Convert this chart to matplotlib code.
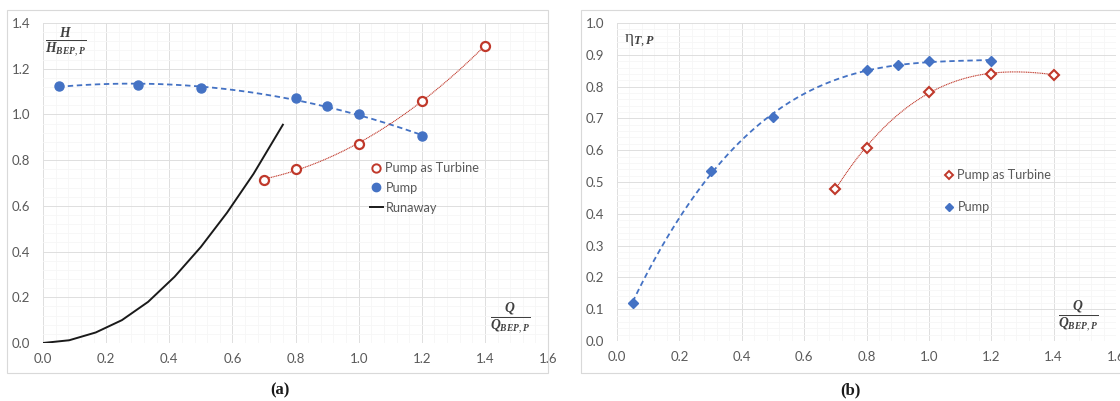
import matplotlib
matplotlib.use('Agg')
import matplotlib.pyplot as plt
import numpy as np
from matplotlib.patches import Rectangle
from matplotlib.lines import Line2D
from matplotlib.ticker import MultipleLocator, AutoMinorLocator

# ─── data ───
# (a) head ratio
pump_q_a = [0.05, 0.3, 0.5, 0.8, 0.9, 1.0, 1.2]
pump_h = [1.125, 1.13, 1.115, 1.07, 1.035, 1.0, 0.905]
pat_q_a = [0.7, 0.8, 1.0, 1.2, 1.4]
pat_h = [0.715, 0.76, 0.87, 1.06, 1.30]
run_q = [0.0, 0.083, 0.167, 0.25, 0.333, 0.417, 0.5, 0.583, 0.667, 0.76]
run_h = [0.0, 0.012, 0.046, 0.10, 0.18, 0.29, 0.42, 0.57, 0.74, 0.955]

# (b) efficiency
pump_q_b = [0.05, 0.3, 0.5, 0.8, 0.9, 1.0, 1.2]
pump_eta = [0.12, 0.535, 0.703, 0.853, 0.867, 0.88, 0.882]
pat_q_b = [0.7, 0.8, 1.0, 1.2, 1.4]
pat_eta = [0.478, 0.608, 0.783, 0.84, 0.838]

BLUE = '#4472C4'
RED = '#C0392B'
GRAY_TXT = '#595959'
GRID = '#dedede'
GRID_MINOR = '#f6f6f6'

plt.rcParams['font.family'] = ['Lato', 'DejaVu Sans']
plt.rcParams['mathtext.fontset'] = 'custom'
plt.rcParams['mathtext.it'] = 'Liberation Serif:italic:bold'
plt.rcParams['mathtext.rm'] = 'Liberation Serif'
plt.rcParams['mathtext.bf'] = 'Liberation Serif:bold'

fig = plt.figure(figsize=(11.2, 4.01), dpi=100)
fig.patch.set_facecolor('white')

# panel frames (Excel chart area borders)
for x0, x1 in [(7, 548), (581, 1122)]:
    fig.patches.append(Rectangle((x0 / 1120, 1 - 373 / 401), (x1 - x0) / 1120, 363 / 401,
                                 transform=fig.transFigure, fill=False,
                                 edgecolor='#d9d9d9', linewidth=0.8))

ax1 = fig.add_axes([43 / 1120, 1 - 343 / 401, 505 / 1120, 320 / 401])
ax2 = fig.add_axes([617 / 1120, 1 - 341 / 401, 499 / 1120, 318 / 401])


def style(ax, ymax, ystep):
    ax.set_xlim(0, 1.6)
    ax.set_ylim(0, ymax)
    ax.xaxis.set_major_locator(MultipleLocator(0.2))
    ax.yaxis.set_major_locator(MultipleLocator(ystep))
    ax.xaxis.set_minor_locator(AutoMinorLocator(5))
    ax.yaxis.set_minor_locator(AutoMinorLocator(5))
    ax.grid(which='major', color=GRID, linewidth=0.7)
    ax.grid(which='minor', color=GRID_MINOR, linewidth=0.6)
    ax.set_axisbelow(True)
    for s in ax.spines.values():
        s.set_visible(False)
    ax.tick_params(which='both', length=0, colors=GRAY_TXT, labelsize=9.5)
    ax.tick_params(axis='y', pad=9)
    ax.tick_params(axis='x', pad=7)
    ax.xaxis.set_major_formatter(lambda v, p: f'{v:.1f}')
    ax.yaxis.set_major_formatter(lambda v, p: f'{v:.1f}')


style(ax1, 1.4, 0.2)
style(ax2, 1.0, 0.1)

# ─── (a) ───
c = np.polyfit(pump_q_a, pump_h, 2)
xx = np.linspace(min(pump_q_a), max(pump_q_a), 200)
ax1.plot(xx, np.polyval(c, xx), color=BLUE, ls=(0, (3, 2)), lw=1.3)
c = np.polyfit(pat_q_a, pat_h, 2)
xx = np.linspace(min(pat_q_a), max(pat_q_a), 200)
ax1.plot(xx, np.polyval(c, xx), color=RED, ls=(0, (1, 0.6)), lw=0.8)
ax1.plot(run_q, run_h, color='#1a1a1a', lw=1.4)
ax1.plot(pump_q_a, pump_h, 'o', color=BLUE, ms=6.5, ls='none')
ax1.plot(pat_q_a, pat_h, 'o', mfc='white', mec=RED, mew=1.6, ms=6.5, ls='none')

h_a = [Line2D([], [], marker='o', mfc='white', mec=RED, mew=1.4, ms=6, ls='none'),
       Line2D([], [], marker='o', color=BLUE, ms=6, ls='none'),
       Line2D([], [], color='#1a1a1a', lw=1.4)]
ax1.legend(h_a, ['Pump as Turbine', 'Pump', 'Runaway'], loc='upper left',
           bbox_to_anchor=(0.635, 0.585), frameon=False, fontsize=9.2,
           labelcolor=GRAY_TXT, handlelength=1.0, handletextpad=0.2,
           labelspacing=0.6, borderpad=0)

ax1.text(0.044, 0.94, r'$\frac{H}{H_{BEP,P}}$',
         transform=ax1.transAxes, ha='center', va='center', fontsize=14, color='#404040')
ax1.text(0.925, 0.075, r'$\frac{Q}{Q_{BEP,P}}$',
         transform=ax1.transAxes, ha='center', va='center', fontsize=14, color='#404040')

# ─── (b) ───
c = np.polyfit(pump_q_b, pump_eta, 3)
xx = np.linspace(min(pump_q_b), max(pump_q_b), 200)
ax2.plot(xx, np.polyval(c, xx), color=BLUE, ls=(0, (3, 2)), lw=1.3)
c = np.polyfit(pat_q_b, pat_eta, 3)
xx = np.linspace(min(pat_q_b), max(pat_q_b), 200)
ax2.plot(xx, np.polyval(c, xx), color=RED, ls=(0, (1, 0.6)), lw=0.8)
ax2.plot(pump_q_b, pump_eta, 'D', color=BLUE, ms=5, ls='none')
ax2.plot(pat_q_b, pat_eta, 'D', mfc='white', mec=RED, mew=1.5, ms=5, ls='none')

h_b = [Line2D([], [], marker='D', mfc='white', mec=RED, mew=1.4, ms=4.5, ls='none'),
       Line2D([], [], marker='D', color=BLUE, ms=4.5, ls='none')]
ax2.legend(h_b, ['Pump as Turbine', 'Pump'], loc='upper left',
           bbox_to_anchor=(0.645, 0.56), frameon=False, fontsize=9.2,
           labelcolor=GRAY_TXT, handlelength=0.6, handletextpad=0.35,
           labelspacing=1.55, borderpad=0)

ax2.text(0.045, 0.945, r'$\mathrm{\eta}_{T,P}$', transform=ax2.transAxes,
         ha='center', va='center', fontsize=12.5, color='#404040')
ax2.text(0.924, 0.075, r'$\frac{Q}{Q_{BEP,P}}$',
         transform=ax2.transAxes, ha='center', va='center', fontsize=14, color='#404040')

# captions
for xc, lab in [(280, 'a'), (850, 'b')]:
    fig.text(xc / 1120, 1 - 390 / 401, f'({lab})', ha='center', va='center',
             fontsize=12, fontweight='bold', family='Liberation Serif', color='#1a1a1a')

fig.savefig('out.png', dpi=100, facecolor='white')
